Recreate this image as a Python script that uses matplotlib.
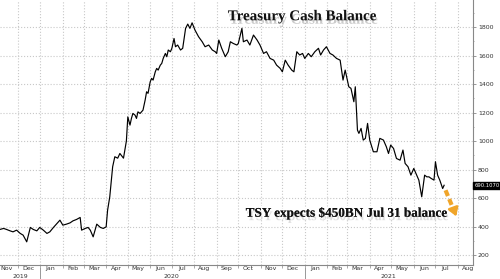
import matplotlib
matplotlib.use("Agg")
import matplotlib.pyplot as plt
import matplotlib.dates as mdates
import matplotlib.patheffects as pe
import matplotlib.transforms as mtransforms
from matplotlib.ticker import MultipleLocator
import pandas as pd

# weekly-ish Treasury General Account balance ($BN)
dates = [
    "2019-11-06", "2019-11-11", "2019-11-15", "2019-11-20", "2019-11-24", "2019-11-29",
    "2019-12-04", "2019-12-08", "2019-12-13", "2019-12-18", "2019-12-22", "2019-12-27", "2019-12-31",
    "2020-01-05", "2020-01-10", "2020-01-14", "2020-01-19", "2020-01-24", "2020-01-28",
    "2020-02-01", "2020-02-06", "2020-02-11", "2020-02-15", "2020-02-20", "2020-02-25", "2020-02-27",
    "2020-03-03", "2020-03-07", "2020-03-10", "2020-03-14", "2020-03-19", "2020-03-24", "2020-03-28",
    "2020-04-01", "2020-04-03", "2020-04-06", "2020-04-10", "2020-04-13", "2020-04-17", "2020-04-20",
    "2020-04-25", "2020-04-29",
    "2020-05-01", "2020-05-04", "2020-05-06", "2020-05-08", "2020-05-11", "2020-05-13", "2020-05-15",
    "2020-05-18", "2020-05-20", "2020-05-22", "2020-05-25", "2020-05-27", "2020-05-29",
    "2020-06-01", "2020-06-03", "2020-06-05", "2020-06-08", "2020-06-10", "2020-06-12", "2020-06-15",
    "2020-06-17", "2020-06-19", "2020-06-22", "2020-06-24", "2020-06-26", "2020-06-29",
    "2020-07-01", "2020-07-04", "2020-07-06", "2020-07-09", "2020-07-13", "2020-07-16", "2020-07-20",
    "2020-07-23", "2020-07-26", "2020-07-29",
    "2020-08-02", "2020-08-07", "2020-08-12", "2020-08-16", "2020-08-21", "2020-08-26", "2020-08-30",
    "2020-09-01", "2020-09-04", "2020-09-08", "2020-09-13", "2020-09-17", "2020-09-20", "2020-09-24",
    "2020-09-29",
    "2020-10-01", "2020-10-06", "2020-10-08", "2020-10-13", "2020-10-17", "2020-10-22", "2020-10-27",
    "2020-10-31",
    "2020-11-05", "2020-11-09", "2020-11-14", "2020-11-19", "2020-11-23", "2020-11-28",
    "2020-12-01", "2020-12-05", "2020-12-09", "2020-12-14", "2020-12-17", "2020-12-21", "2020-12-25",
    "2020-12-29",
    "2021-01-01", "2021-01-06", "2021-01-10", "2021-01-15", "2021-01-20", "2021-01-23", "2021-01-27",
    "2021-01-31",
    "2021-02-05", "2021-02-09", "2021-02-14", "2021-02-19", "2021-02-21", "2021-02-23", "2021-02-26",
    "2021-02-28",
    "2021-03-03", "2021-03-06", "2021-03-10", "2021-03-12", "2021-03-15", "2021-03-17", "2021-03-20",
    "2021-03-23", "2021-03-26", "2021-03-29",
    "2021-04-01", "2021-04-06", "2021-04-11", "2021-04-15", "2021-04-20", "2021-04-24", "2021-04-27",
    "2021-04-30",
    "2021-05-04", "2021-05-08", "2021-05-13", "2021-05-17", "2021-05-20", "2021-05-24", "2021-05-28",
    "2021-06-01", "2021-06-04", "2021-06-08", "2021-06-12", "2021-06-16", "2021-06-19", "2021-06-22",
    "2021-06-25", "2021-06-29",
    "2021-07-01", "2021-07-04", "2021-07-07", "2021-07-11", "2021-07-13",
]
balance = [
    380, 387, 380, 370, 363, 375,
    352, 340, 293, 394, 380, 370, 394,
    375, 352, 363, 394, 422, 445,
    410, 417, 426, 440, 450, 464, 375,
    387, 394, 375, 328, 417, 394, 387,
    398, 515, 609, 820, 890, 880, 913,
    880, 1000,
    1170, 1112, 1159, 1194, 1182, 1159, 1205,
    1194, 1205, 1217, 1288, 1346, 1335,
    1416, 1440, 1428, 1486, 1510, 1498, 1533,
    1545, 1580, 1615, 1592, 1639, 1627,
    1651, 1720, 1662, 1674, 1639, 1651, 1791,
    1821, 1791, 1830,
    1779, 1732, 1697, 1662, 1674, 1639, 1627,
    1615, 1709, 1651, 1592, 1627, 1697, 1685,
    1674,
    1685, 1791, 1697, 1709, 1674, 1744, 1709,
    1674,
    1615, 1627, 1580, 1568, 1533, 1510,
    1486, 1568, 1533, 1498, 1486, 1627, 1604,
    1615,
    1580, 1615, 1592, 1627, 1651, 1604, 1639,
    1662,
    1615, 1604, 1580, 1568, 1498, 1428, 1498,
    1451,
    1381, 1370, 1276, 1381, 1077, 1054, 1089,
    1007, 1019, 1124,
    1007, 925, 925, 1019, 1007, 960, 913,
    972,
    948, 878, 866, 937, 843, 820, 761,
    808, 773, 726, 609, 761, 749, 749,
    738, 726,
    855, 761, 726, 667, 690,
]
last_label = "690.1070"

# projection arrow: latest -> Treasury's Jul 31 estimate
proj_dates = ["2021-07-15", "2021-07-31"]
proj_values = [655, 455]

x = pd.to_datetime(dates)
px = pd.to_datetime(proj_dates)

fig = plt.figure(figsize=(5, 2.79), dpi=100)
ax = fig.add_axes([0, 0.05, 0.946, 0.95])

ax.plot(x, balance, color="black", lw=0.85)

# dashed orange projection with arrow head
ax.plot([px[0], px[1] - pd.Timedelta(days=3)],
        [proj_values[0], proj_values[1] + 40],
        color="#f0a52a", lw=3, ls=(0, (1.5, 0.8)), solid_capstyle="butt")
ax.annotate("", xy=(px[1], proj_values[1]),
            xytext=(px[1] - pd.Timedelta(days=4), proj_values[1] + 55),
            arrowprops=dict(arrowstyle="-|>,head_width=0.3,head_length=0.45",
                            color="#f0a52a", lw=2))

ax.set_xlim(pd.Timestamp("2019-11-06"), pd.Timestamp("2021-08-22"))
ax.set_ylim(130, 1990)

# axes styling
for s in ["left", "top"]:
    ax.spines[s].set_visible(False)
ax.spines["right"].set_color("#888888")
ax.spines["bottom"].set_color("#888888")
ax.spines["right"].set_linewidth(0.8)
ax.spines["bottom"].set_linewidth(0.8)

ax.yaxis.tick_right()
ax.yaxis.set_major_locator(MultipleLocator(200))
ax.yaxis.set_minor_locator(MultipleLocator(100))
ax.tick_params(axis="y", which="major", length=2, width=0.6, colors="#888888",
               labelcolor="#333333", labelsize=4.5, pad=1.5)
ax.tick_params(axis="y", which="minor", length=1, width=0.5, colors="#888888")
ax.yaxis.set_major_formatter(plt.FuncFormatter(lambda v, p: f"{int(v)}"))

ax.xaxis.set_major_locator(mdates.MonthLocator())
ax.xaxis.set_major_formatter(plt.NullFormatter())
ax.xaxis.set_minor_locator(mdates.MonthLocator(bymonthday=15))
ax.xaxis.set_minor_formatter(mdates.DateFormatter("%b"))
ax.tick_params(axis="x", which="major", length=2, width=0.5, colors="#888888")
ax.tick_params(axis="x", which="minor", length=0, labelsize=4.5,
               labelcolor="#333333", pad=1)

ax.grid(True, which="major", color="#c8c8c8", ls=":", lw=0.8)

# year labels and separators under the month labels
trans = mtransforms.blended_transform_factory(ax.transData, ax.transAxes)
for yr_mid, yr in [("2019-12-04", "2019"), ("2020-07-01", "2020"), ("2021-04-27", "2021")]:
    ax.text(pd.Timestamp(yr_mid), -0.043, yr, transform=trans, ha="center", va="center",
            fontsize=4.5, color="#333333")
for sep in ["2020-01-01", "2021-01-01"]:
    ax.plot([pd.Timestamp(sep)] * 2, [-0.012, -0.06], transform=trans, color="#888888",
            lw=0.6, clip_on=False)

# last value tag
ytrans = mtransforms.blended_transform_factory(ax.transAxes, ax.transData)
ax.text(1.003, balance[-1], last_label, transform=ytrans, ha="left", va="center",
        fontsize=3.8, color="white",
        bbox=dict(boxstyle="square,pad=0.2", fc="black", ec="black"))

# title and annotation
shadow = [pe.SimplePatchShadow(offset=(1, -2.5), shadow_rgbFace="0.6", alpha=0.5), pe.Normal()]
fig.text(0.604, 0.94, "Treasury Cash Balance", ha="center", va="center",
         fontsize=10.8, fontweight="bold", family="Liberation Serif", color="#111111",
         path_effects=shadow)
fig.text(0.694, 0.235, "TSY expects $450BN Jul 31 balance", ha="center", va="center",
         fontsize=9.5, fontweight="bold", family="Liberation Serif", color="#111111",
         path_effects=[pe.withStroke(linewidth=3, foreground="white"),
                       pe.SimplePatchShadow(offset=(1, -2.5), shadow_rgbFace="0.75", alpha=0.5),
                       pe.Normal()])

fig.savefig("out.png", dpi=100)
